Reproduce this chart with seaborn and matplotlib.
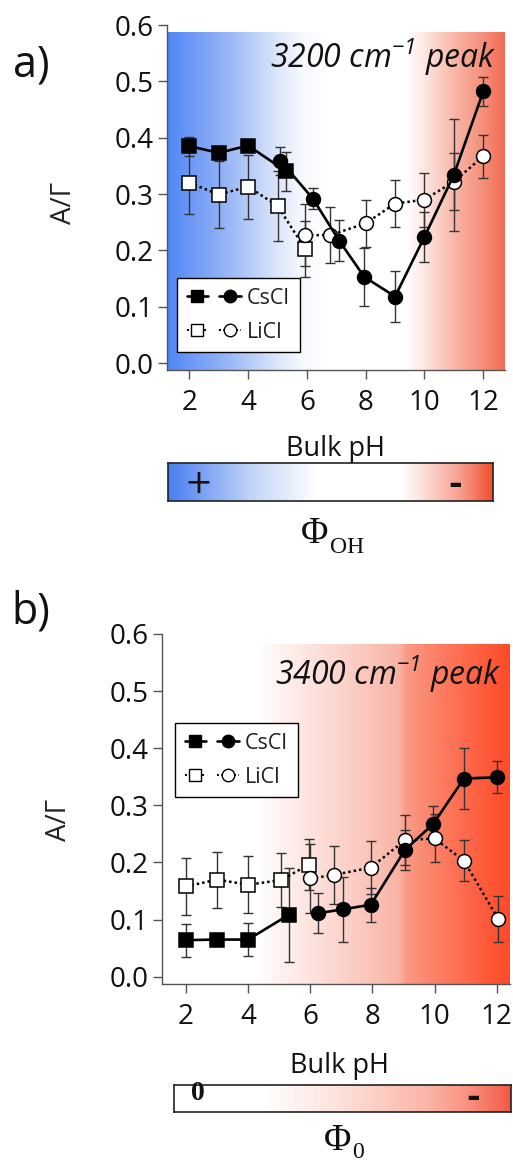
import numpy as np
import pandas as pd
import matplotlib
matplotlib.use("Agg")
import matplotlib.pyplot as plt
import seaborn as sns
from matplotlib.colors import LinearSegmentedColormap
from matplotlib.lines import Line2D
from matplotlib.legend_handler import HandlerTuple

# ---------------- data ----------------
ph_ticks = [2, 4, 6, 8, 10, 12]
y_ticks = [0.0, 0.1, 0.2, 0.3, 0.4, 0.5, 0.6]

# panel a (3200 cm-1)
a_cs_sq_ph = [2.0, 3.0, 4.0, 5.3]
a_cs_sq_y = [0.385, 0.373, 0.386, 0.340]
a_cs_sq_err = [0.017, 0.010, 0.010, 0.035]
a_cs_ci_ph = [5.1, 6.2, 7.1, 7.95, 9.0, 10.0, 11.0, 12.0]
a_cs_ci_y = [0.359, 0.292, 0.217, 0.153, 0.118, 0.224, 0.334, 0.482]
a_cs_ci_err = [0.025, 0.018, 0.036, 0.052, 0.045, 0.044, 0.100, 0.025]
a_li_sq_ph = [2.0, 3.0, 4.0, 5.0, 5.95]
a_li_sq_y = [0.320, 0.299, 0.313, 0.279, 0.202]
a_li_sq_err = [0.056, 0.060, 0.057, 0.062, 0.050]
a_li_ci_ph = [5.95, 6.8, 8.0, 9.0, 10.0, 11.0, 12.0]
a_li_ci_y = [0.227, 0.227, 0.248, 0.283, 0.290, 0.322, 0.367]
a_li_ci_err = [0.055, 0.050, 0.042, 0.042, 0.048, 0.050, 0.038]

# panel b (3400 cm-1)
b_cs_sq_ph = [2.0, 3.0, 4.0, 5.3]
b_cs_sq_y = [0.064, 0.065, 0.065, 0.108]
b_cs_sq_err = [0.029, 0.010, 0.029, 0.083]
b_cs_ci_ph = [6.25, 7.05, 7.95, 9.05, 9.95, 10.95, 12.0]
b_cs_ci_y = [0.111, 0.118, 0.126, 0.222, 0.267, 0.347, 0.349]
b_cs_ci_err = [0.035, 0.057, 0.030, 0.035, 0.032, 0.054, 0.028]
b_li_sq_ph = [2.0, 3.0, 4.0, 5.05, 5.95]
b_li_sq_y = [0.158, 0.170, 0.161, 0.169, 0.196]
b_li_sq_err = [0.050, 0.049, 0.050, 0.047, 0.045]
b_li_ci_ph = [6.0, 6.75, 7.95, 9.05, 10.0, 10.95, 12.05]
b_li_ci_y = [0.172, 0.178, 0.191, 0.239, 0.242, 0.203, 0.101]
b_li_ci_err = [0.060, 0.051, 0.047, 0.044, 0.042, 0.036, 0.040]

# gradient colour stops (pH, colour)
a_grad_ph = [1.24, 2.0, 3.0, 4.0, 5.0, 5.8, 6.5, 9.4, 10.0, 11.0, 12.0, 12.74]
a_grad_col = ["#4f86f7", "#6d98f5", "#8eaff6", "#b5cbf8", "#dde7fb", "#f5f8fe",
              "#ffffff", "#ffffff", "#fde8e3", "#f9b9aa", "#f4907b", "#f26c55"]
b_grad_ph = [1.23, 4.3, 5.0, 6.0, 7.0, 8.0, 8.9, 9.1, 10.0, 11.0, 12.43]
b_grad_col = ["#ffffff", "#ffffff", "#fef3f1", "#fde3de", "#fcd4cc", "#fbc3b8",
              "#f9b2a4", "#f99a85", "#fb8268", "#fd6a4c", "#ff4a28"]
a_bar_pos = [0.0, 0.1, 0.25, 0.4, 0.46, 0.72, 0.8, 0.9, 1.0]
a_bar_col = ["#4a7ff0", "#78a0f4", "#c0d3f8", "#eef3fd", "#ffffff", "#ffffff",
             "#fbd8d0", "#f6a090", "#f0502e"]
b_bar_pos = [0.0, 0.27, 0.5, 0.75, 0.88, 1.0]
b_bar_col = ["#ffffff", "#ffffff", "#fde0da", "#fbb5a8", "#f8907c", "#f25a45"]

# ---------------- style ----------------
sns.set_style("ticks")
plt.rcParams["font.family"] = ["Open Sans", "DejaVu Sans"]
plt.rcParams["mathtext.fontset"] = "custom"
plt.rcParams["mathtext.rm"] = "Open Sans:italic"
plt.rcParams["mathtext.it"] = "Open Sans:italic"

W, H = 513, 1162
fig = plt.figure(figsize=(W / 100, H / 100), dpi=100)


def fx(x):
    return x / W


def fy(y):
    return 1 - y / H


def make_cmap(pos, cols, lo, hi):
    p = [(v - lo) / (hi - lo) for v in pos]
    p[0], p[-1] = 0.0, 1.0
    return LinearSegmentedColormap.from_list("g", list(zip(p, cols)))


def panel(rect, xlim, ylim, gtop, gph, gcol, series, peak, peak_y, leg_xy):
    ax = fig.add_axes(rect)
    cmap = make_cmap(gph, gcol, xlim[0], xlim[1])
    grad = np.linspace(0, 1, 600)[None, :]
    ax.imshow(grad, extent=[xlim[0], xlim[1], ylim[0], gtop], aspect="auto",
              cmap=cmap, zorder=0, interpolation="bilinear")
    for ph, y, err, marker, filled, ls in series:
        ax.errorbar(ph, y, yerr=err, fmt="none", ecolor="#333333", elinewidth=1.0,
                    capsize=3.5, capthick=1.0, zorder=2)
        df = pd.DataFrame({"pH": ph, "v": y})
        sns.lineplot(data=df, x="pH", y="v", ax=ax, estimator=None, sort=False,
                     color="black", lw=1.9 if ls == "-" else 1.8,
                     linestyle=ls, marker=marker, markersize=10,
                     markerfacecolor="black" if filled else "white",
                     markeredgecolor="black", markeredgewidth=1.1, zorder=3)
    ax.set_xlim(*xlim)
    ax.set_ylim(*ylim)
    ax.set_xticks(ph_ticks)
    ax.set_yticks(y_ticks)
    ax.set_yticklabels([f"{v:.1f}" for v in y_ticks])
    ax.set_xlabel("")
    ax.set_ylabel("")
    for s in ["top", "right"]:
        ax.spines[s].set_visible(False)
    for s in ["left", "bottom"]:
        ax.spines[s].set_color("#555555")
        ax.spines[s].set_linewidth(1.0)
    ax.tick_params(axis="both", direction="out", length=6.5, width=1.0,
                   color="#555555", labelcolor="#111111", labelsize=20)
    ax.tick_params(axis="x", pad=7)
    ax.tick_params(axis="y", pad=3)
    ax.text(0.975, peak_y, peak, transform=ax.transAxes, ha="right", va="center",
            fontsize=23, fontstyle="italic", color="#111111")
    # legend
    ls_cs = dict(color="black", lw=1.9, markeredgecolor="black", markersize=9)
    ls_li = dict(color="black", lw=1.4, linestyle=(0, (1, 1.2)),
                 markeredgecolor="black", markersize=9, markeredgewidth=1.0)
    h_cs = (Line2D([], [], marker="s", markerfacecolor="black", **ls_cs),
            Line2D([], [], marker="o", markerfacecolor="black", **ls_cs))
    h_li = (Line2D([], [], marker="s", markerfacecolor="white", **ls_li),
            Line2D([], [], marker="o", markerfacecolor="white", **ls_li))
    leg = ax.legend([h_cs, h_li], ["CsCl", "LiCl"],
                    handler_map={tuple: HandlerTuple(ndivide=None, pad=0.5)},
                    loc="upper left", bbox_to_anchor=(fx(leg_xy[0]), fy(leg_xy[1])),
                    bbox_transform=fig.transFigure, borderaxespad=0,
                    fontsize=15.5, handlelength=2.5, handletextpad=0.3,
                    borderpad=0.45, labelspacing=0.6, numpoints=1,
                    frameon=True, fancybox=False, framealpha=1, edgecolor="black")
    leg.get_frame().set_linewidth(1.0)
    for t in leg.get_texts():
        t.set_color("#222222")
    return ax


# panel a
ax_a = panel([fx(167), fy(370), fx(505 - 167), 345 / H],
             (1.24, 12.74), (-0.0124, 0.6), 0.586, a_grad_ph, a_grad_col,
             [(a_li_sq_ph, a_li_sq_y, a_li_sq_err, "s", False, (0, (1, 1.2))),
              (a_li_ci_ph, a_li_ci_y, a_li_ci_err, "o", False, (0, (1, 1.2))),
              (a_cs_sq_ph, a_cs_sq_y, a_cs_sq_err, "s", True, "-"),
              (a_cs_ci_ph, a_cs_ci_y, a_cs_ci_err, "o", True, "-")],
             r"3200 cm$^{-1}$ peak", 0.905, (177, 278))

# panel b
ax_b = panel([fx(162), fy(984), fx(510 - 162), 350 / H],
             (1.228, 12.43), (-0.0128, 0.6), 0.581, b_grad_ph, b_grad_col,
             [(b_li_sq_ph, b_li_sq_y, b_li_sq_err, "s", False, (0, (1, 1.2))),
              (b_li_ci_ph, b_li_ci_y, b_li_ci_err, "o", False, (0, (1, 1.2))),
              (b_cs_sq_ph, b_cs_sq_y, b_cs_sq_err, "s", True, "-"),
              (b_cs_ci_ph, b_cs_ci_y, b_cs_ci_err, "o", True, "-")],
             r"3400 cm$^{-1}$ peak", 0.885, (175, 723))

# labels
fig.text(fx(31), fy(65), "a)", fontsize=31, ha="center", va="center", color="#111111")
fig.text(fx(31), fy(612), "b)", fontsize=31, ha="center", va="center", color="#111111")
fig.text(fx(64), fy(203), "A/Γ", fontsize=20, rotation=90, ha="center", va="center",
         color="#222222")
fig.text(fx(59), fy(820), "A/Γ", fontsize=20, rotation=90, ha="center", va="center",
         color="#222222")
fig.text(fx(335), fy(449), "Bulk pH", fontsize=19.5, ha="center", va="center",
         color="#111111")
fig.text(fx(340), fy(1066), "Bulk pH", fontsize=19.5, ha="center", va="center",
         color="#111111")


def colorbar(rect, pos, cols):
    cax = fig.add_axes(rect)
    cmap = LinearSegmentedColormap.from_list("c", list(zip(pos, cols)))
    cax.imshow(np.linspace(0, 1, 600)[None, :], aspect="auto", cmap=cmap,
               extent=[0, 1, 0, 1], interpolation="bilinear")
    cax.set_xlim(0, 1)
    cax.set_ylim(0, 1)
    cax.set_xticks([])
    cax.set_yticks([])
    for s in cax.spines.values():
        s.set_visible(True)
        s.set_color("#222222")
        s.set_linewidth(1.2)
    return cax


colorbar([fx(168), fy(501), fx(493 - 168), 38 / H], a_bar_pos, a_bar_col)
colorbar([fx(174), fy(1112), fx(511 - 174), 27 / H], b_bar_pos, b_bar_col)

fig.text(fx(198), fy(483), "+", fontsize=24, ha="center", va="center",
         family="DejaVu Sans", color="#111111")
fig.text(fx(455), fy(485), "-", fontsize=24, ha="center", va="center",
         family="DejaVu Sans", fontweight="bold", color="#111111")
fig.text(fx(198), fy(1094), "0", fontsize=20, ha="center", va="center",
         family="Liberation Serif", fontweight="bold", color="#111111")
fig.text(fx(473), fy(1097), "-", fontsize=24, ha="center", va="center",
         family="DejaVu Sans", fontweight="bold", color="#111111")

fig.text(fx(315), fy(534), "Φ", fontsize=27, ha="center", va="center",
         family="Liberation Serif", color="#111111")
fig.text(fx(330), fy(548), "OH", fontsize=17, ha="left", va="center",
         family="Liberation Serif", color="#111111")
fig.text(fx(338), fy(1141), "Φ", fontsize=27, ha="center", va="center",
         family="Liberation Serif", color="#111111")
fig.text(fx(352), fy(1152), "0", fontsize=17, ha="left", va="center",
         family="Liberation Serif", color="#111111")

fig.savefig("out.png", dpi=100)
